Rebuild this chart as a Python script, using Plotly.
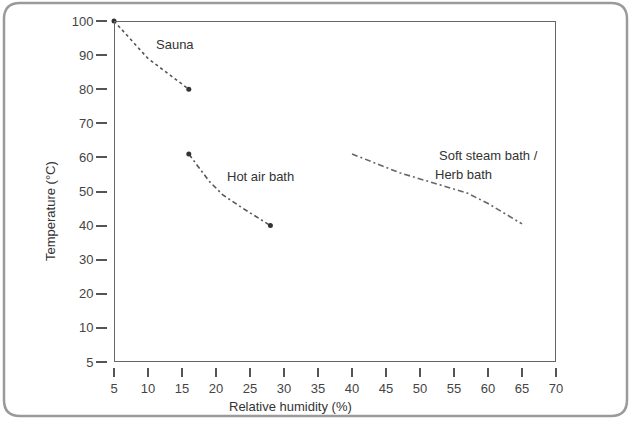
import plotly.graph_objects as go

W, H = 631, 421
# plot frame in screen pixels (left, right, top, bottom) and where the tick rows sit
L, R, T, B = 114, 556, 21, 362
YAX_X, XAX_Y = 107, 367

x_ticks = [5, 10, 15, 20, 25, 30, 35, 40, 45, 50, 55, 60, 65, 70]
y_tickvals = [0, 10, 20, 30, 40, 50, 60, 70, 80, 90, 100]
y_ticktext = ["5", "10", "20", "30", "40", "50", "60", "70", "80", "90", "100"]

sauna_x = [5, 10, 16]
sauna_y = [100, 89, 80]
hot_air_x = [16, 19, 21, 24, 28]
hot_air_y = [61, 53, 49, 45, 40]
steam_x = [40, 47, 52, 57, 60, 65]
steam_y = [61, 55.5, 52.5, 49.5, 46.5, 40.5]

LINE = "#555555"
TEXT = "#333333"
FONT = "Liberation Sans, Arial, sans-serif"


def px(x, y):
    """screen pixel position -> paper coords"""
    return (x - YAX_X) / (R - YAX_X), (XAX_Y - y) / (XAX_Y - T)


def rounded_rect(x0, y0, x1, y1, r):
    pts = [
        ("M", x0 + r, y0), ("L", x1 - r, y0), ("Q", x1, y0, x1, y0 + r),
        ("L", x1, y1 - r), ("Q", x1, y1, x1 - r, y1), ("L", x0 + r, y1),
        ("Q", x0, y1, x0, y1 - r), ("L", x0, y0 + r), ("Q", x0, y0, x0 + r, y0),
    ]
    out = []
    for p in pts:
        cmd, coords = p[0], p[1:]
        conv = []
        for i in range(0, len(coords), 2):
            a, b = px(coords[i], coords[i + 1])
            conv.append(f"{a:.5f},{b:.5f}")
        out.append(cmd + " ".join(conv))
    return " ".join(out) + " Z"


fig = go.Figure()
fig.add_trace(go.Scatter(
    x=sauna_x, y=sauna_y, mode="lines",
    line=dict(color=LINE, width=1.6, dash="dot"), cliponaxis=False,
))
fig.add_trace(go.Scatter(
    x=hot_air_x, y=hot_air_y, mode="lines",
    line=dict(color=LINE, width=1.6, dash="5px,3px,2px,3px"), cliponaxis=False,
))
fig.add_trace(go.Scatter(
    x=steam_x, y=steam_y, mode="lines",
    line=dict(color="#666666", width=1.6, dash="6px,3px,2px,3px"), cliponaxis=False,
))
# end dots
fig.add_trace(go.Scatter(
    x=[sauna_x[0], sauna_x[-1], hot_air_x[0], hot_air_x[-1]],
    y=[sauna_y[0], sauna_y[-1], hot_air_y[0], hot_air_y[-1]],
    mode="markers", marker=dict(color="#333333", size=5), cliponaxis=False,
))

fig.add_shape(type="rect", xref="x", yref="y", x0=5, x1=70, y0=0, y1=100,
              line=dict(color="#666666", width=2), layer="above")
fig.add_shape(type="path", xref="paper", yref="paper",
              path=rounded_rect(4, 3, 627, 416, 16),
              line=dict(color="#9a9a9a", width=2.5))

labels = [
    (14, 93, "Sauna", "center"),
    (26.5, 54.5, "Hot air bath", "center"),
    (52.5, 60.7, "Soft steam bath /", "left"),
    (51.9, 55.1, "Herb bath", "left"),
]
for x, y, t, al in labels:
    fig.add_annotation(x=x, y=y, text=t, showarrow=False, xanchor=al, yanchor="middle",
                       font=dict(size=13, color=TEXT, family=FONT))

ax, ay = px(50, 211)
fig.add_annotation(x=ax, y=ay, xref="paper", yref="paper", text="Temperature (°C)",
                   textangle=-90, showarrow=False, xanchor="center", yanchor="middle",
                   font=dict(size=13, color=TEXT, family=FONT))
ax, ay = px(290, 406)
fig.add_annotation(x=ax, y=ay, xref="paper", yref="paper", text="Relative humidity (%)",
                   showarrow=False, xanchor="center", yanchor="middle",
                   font=dict(size=13, color=TEXT, family=FONT))

fig.update_layout(
    width=W, height=H,
    margin=dict(l=YAX_X, r=W - R, t=T, b=H - XAX_Y),
    plot_bgcolor="white", paper_bgcolor="white",
    showlegend=False,
    font=dict(family=FONT, size=13, color="#444444"),
    xaxis=dict(
        range=[5, 70], domain=[(L - YAX_X) / (R - YAX_X), 1],
        anchor="free", position=0, automargin=False,
        tickvals=x_ticks, ticks="outside", ticklen=9, tickwidth=1.5, tickcolor="#555555",
        showline=False, showgrid=False, zeroline=False,
    ),
    yaxis=dict(
        range=[0, 100], domain=[(XAX_Y - B) / (XAX_Y - T), 1],
        anchor="free", position=0, automargin=False,
        tickvals=y_tickvals, ticktext=y_ticktext,
        ticks="outside", ticklen=11, tickwidth=1.5, tickcolor="#555555",
        showline=False, showgrid=False, zeroline=False,
    ),
)

# drop the browser's default 8px page margin so the figure sits at the window corner
fig.write_html("out.html", config={"displayModeBar": False},
               post_script="document.body.style.margin = '0px';")
